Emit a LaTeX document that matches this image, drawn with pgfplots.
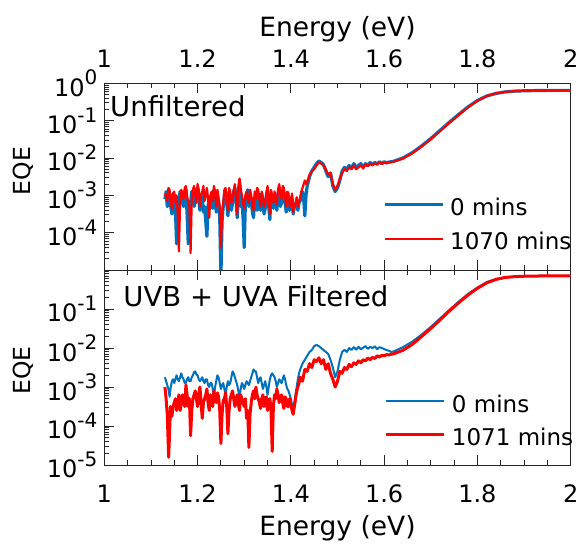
\documentclass[border=0pt]{standalone}
\usepackage{pgfplots}
\pgfplotsset{compat=1.18}
\usepackage{pgfplotstable}
\usepackage{fontspec}
\setmainfont{DejaVu Sans}
\definecolor{mblue}{HTML}{0072BD}
\definecolor{mred}{HTML}{FF0000}
\newcommand{\tp}[1]{10\raisebox{11.5pt}{\fontsize{20}{20}\selectfont #1}}
\begin{document}
\pgfplotstableread{
x y
1.130 7.94e-4
1.1325 1.26e-3
1.135 5.01e-4
1.1375 6.31e-4
1.140 1.00e-3
1.1425 5.01e-4
1.145 3.16e-4
1.1475 1.12e-3
1.150 8.91e-4
1.1525 3.98e-4
1.155 5.01e-5
1.1575 2.51e-4
1.160 7.94e-4
1.1625 1.26e-3
1.165 1.00e-3
1.1675 6.31e-4
1.170 5.01e-4
1.1725 1.26e-3
1.175 1.41e-3
1.1775 3.16e-4
1.180 5.01e-5
1.1825 2.51e-4
1.185 6.31e-4
1.1875 1.26e-3
1.190 1.12e-3
1.1925 5.01e-4
1.195 7.08e-4
1.1975 1.41e-3
1.200 1.58e-3
1.2025 7.94e-4
1.205 3.98e-4
1.2075 1.00e-3
1.210 1.00e-3
1.2125 3.55e-4
1.215 5.01e-4
1.2175 2.00e-4
1.220 7.94e-5
1.2225 5.01e-4
1.225 7.94e-4
1.2275 8.91e-4
1.230 1.00e-3
1.2325 4.47e-4
1.235 1.41e-3
1.2375 1.00e-3
1.240 3.55e-4
1.2425 7.94e-4
1.245 6.31e-4
1.2475 2.51e-4
1.250 6.31e-6
1.2525 2.00e-4
1.255 5.01e-4
1.2575 1.00e-3
1.260 1.26e-3
1.2625 6.31e-4
1.265 2.82e-4
1.2675 7.08e-4
1.270 1.00e-3
1.2725 3.98e-4
1.275 6.31e-4
1.2775 1.26e-3
1.280 1.58e-3
1.2825 7.94e-4
1.285 2.51e-4
1.2875 1.00e-3
1.290 2.00e-3
1.2925 5.01e-4
1.295 7.94e-4
1.2975 2.51e-4
1.300 3.98e-5
1.3025 6.31e-4
1.305 1.00e-3
1.3075 1.41e-3
1.310 5.01e-4
1.3125 1.00e-3
1.315 7.94e-4
1.3175 3.55e-4
1.320 2.51e-4
1.3225 8.91e-4
1.325 6.31e-4
1.3275 3.98e-4
1.330 1.12e-3
1.3325 6.31e-4
1.335 3.98e-4
1.3375 1.12e-3
1.340 7.08e-4
1.3425 3.16e-4
1.345 4.47e-4
1.3475 1.00e-3
1.350 1.41e-3
1.3525 5.01e-4
1.355 2.24e-4
1.3575 1.00e-3
1.360 7.94e-4
1.3625 4.47e-4
1.365 1.00e-3
1.3675 6.31e-4
1.370 3.98e-4
1.3725 1.12e-3
1.375 1.58e-3
1.3775 5.01e-4
1.380 6.31e-4
1.3825 1.00e-3
1.385 1.26e-3
1.3875 6.31e-4
1.390 3.55e-4
1.3925 1.00e-3
1.395 8.91e-4
1.3975 3.98e-4
1.400 5.62e-4
1.4025 8.91e-4
1.405 3.16e-4
1.4075 5.01e-4
1.410 5.01e-4
1.4125 7.08e-4
1.415 3.98e-4
1.4175 6.31e-4
1.420 7.08e-4
1.4225 1.00e-3
1.425 1.26e-3
1.4275 7.94e-4
1.430 2.82e-4
1.4325 1.00e-3
1.435 1.78e-3
1.440 3.16e-3
1.445 4.47e-3
1.450 5.62e-3
1.455 7.08e-3
1.460 8.32e-3
1.465 7.59e-3
1.470 6.61e-3
1.475 4.47e-3
1.480 3.16e-3
1.485 3.98e-3
1.490 1.78e-3
1.495 1.26e-3
1.500 1.58e-3
1.505 2.51e-3
1.510 4.47e-3
1.515 5.62e-3
1.520 5.01e-3
1.525 6.31e-3
1.530 5.25e-3
1.535 7.08e-3
1.540 5.62e-3
1.545 6.31e-3
1.550 7.08e-3
1.555 5.62e-3
1.560 7.08e-3
1.565 6.31e-3
1.570 7.59e-3
1.575 6.61e-3
1.580 7.59e-3
1.585 6.92e-3
1.590 7.94e-3
1.595 7.08e-3
1.600 7.94e-3
1.605 7.41e-3
1.610 7.76e-3
1.615 7.94e-3
1.620 8.13e-3
1.64 1.00e-2
1.66 1.38e-2
1.68 2.09e-2
1.70 3.31e-2
1.72 5.50e-2
1.74 9.12e-2
1.76 0.148
1.78 0.234
1.80 0.347
1.82 0.457
1.84 0.537
1.86 0.589
1.88 0.617
1.90 0.631
1.95 0.646
2.00 0.646
}\topA
\pgfplotstableread{
x y
1.130 1.12e-3
1.1325 8.91e-4
1.135 7.08e-4
1.1375 1.58e-3
1.140 1.41e-3
1.1425 6.31e-4
1.145 4.47e-4
1.1475 1.12e-3
1.150 1.26e-3
1.1525 6.31e-4
1.155 1.00e-3
1.1575 3.16e-4
1.160 3.16e-5
1.1625 6.31e-4
1.165 1.41e-3
1.1675 1.12e-3
1.170 7.94e-4
1.1725 1.58e-3
1.175 1.78e-3
1.1775 1.00e-3
1.180 6.31e-4
1.1825 5.01e-4
1.185 2.82e-5
1.1875 7.94e-4
1.190 1.41e-3
1.1925 1.78e-3
1.195 1.00e-3
1.1975 6.31e-4
1.200 2.00e-3
1.2025 1.41e-3
1.205 5.01e-4
1.2075 1.00e-3
1.210 1.26e-3
1.2125 1.78e-3
1.215 7.08e-4
1.2175 1.00e-3
1.220 1.58e-3
1.2225 7.94e-4
1.225 2.51e-4
1.2275 1.00e-3
1.230 1.26e-3
1.2325 7.08e-4
1.235 1.78e-3
1.2375 1.26e-3
1.240 5.01e-4
1.2425 1.41e-3
1.245 8.91e-4
1.2475 5.01e-4
1.250 3.98e-5
1.2525 3.16e-4
1.255 6.31e-4
1.2575 1.41e-3
1.260 1.58e-3
1.2625 8.91e-4
1.265 3.98e-4
1.2675 1.58e-3
1.270 1.26e-3
1.2725 6.31e-4
1.275 7.94e-4
1.2775 1.41e-3
1.280 2.00e-3
1.2825 7.94e-4
1.285 3.16e-4
1.2875 1.78e-3
1.290 2.82e-3
1.2925 1.58e-3
1.295 1.00e-3
1.2975 6.31e-4
1.300 4.47e-4
1.3025 1.00e-3
1.305 1.26e-3
1.3075 7.94e-4
1.310 6.31e-4
1.3125 1.41e-3
1.315 1.00e-3
1.3175 6.31e-4
1.320 3.98e-4
1.3225 1.26e-3
1.325 7.94e-4
1.3275 1.58e-3
1.330 1.41e-3
1.3325 7.94e-4
1.335 5.01e-4
1.3375 1.26e-3
1.340 8.91e-4
1.3425 5.01e-4
1.345 5.62e-4
1.3475 1.12e-3
1.350 1.78e-3
1.3525 8.91e-4
1.355 3.16e-4
1.3575 1.41e-3
1.360 1.00e-3
1.3625 6.31e-4
1.365 1.26e-3
1.3675 7.94e-4
1.370 5.62e-4
1.3725 1.41e-3
1.375 2.00e-3
1.3775 1.12e-3
1.380 7.94e-4
1.3825 1.78e-3
1.385 1.58e-3
1.3875 8.91e-4
1.390 5.01e-4
1.3925 1.26e-3
1.395 1.12e-3
1.3975 5.01e-4
1.400 7.08e-4
1.4025 1.12e-3
1.405 3.55e-4
1.4075 5.01e-4
1.410 6.31e-4
1.4125 8.91e-4
1.415 5.01e-4
1.4175 6.31e-4
1.420 8.91e-4
1.4225 1.26e-3
1.425 1.58e-3
1.4275 2.00e-3
1.430 2.51e-3
1.4325 2.00e-3
1.435 2.24e-3
1.440 3.55e-3
1.445 4.47e-3
1.450 5.01e-3
1.455 6.31e-3
1.460 7.59e-3
1.465 7.08e-3
1.470 6.31e-3
1.475 5.01e-3
1.480 3.55e-3
1.485 3.98e-3
1.490 2.00e-3
1.495 1.41e-3
1.500 1.78e-3
1.505 2.82e-3
1.510 3.98e-3
1.515 5.01e-3
1.520 4.47e-3
1.525 5.62e-3
1.530 5.01e-3
1.535 6.31e-3
1.540 5.01e-3
1.545 5.62e-3
1.550 6.31e-3
1.555 5.25e-3
1.560 6.61e-3
1.565 6.03e-3
1.570 7.08e-3
1.575 6.31e-3
1.580 7.24e-3
1.585 6.61e-3
1.590 7.59e-3
1.595 6.92e-3
1.600 7.59e-3
1.605 7.24e-3
1.610 7.59e-3
1.615 7.76e-3
1.620 7.94e-3
1.64 9.55e-3
1.66 1.32e-2
1.68 2.00e-2
1.70 3.16e-2
1.72 5.25e-2
1.74 8.71e-2
1.76 0.141
1.78 0.229
1.80 0.339
1.82 0.457
1.84 0.537
1.86 0.589
1.88 0.617
1.90 0.631
1.95 0.646
2.00 0.646
}\topB
\pgfplotstableread{
x y
1.130 1.78e-3
1.1325 1.41e-3
1.135 1.12e-3
1.1375 8.91e-4
1.140 5.62e-4
1.1425 1.00e-3
1.145 1.41e-3
1.1475 1.58e-3
1.150 1.26e-3
1.1525 1.58e-3
1.155 2.00e-3
1.1575 1.58e-3
1.160 1.41e-3
1.1625 1.78e-3
1.165 2.24e-3
1.1675 1.78e-3
1.170 1.58e-3
1.1725 1.26e-3
1.175 1.26e-3
1.1775 1.58e-3
1.180 1.78e-3
1.1825 1.41e-3
1.185 1.41e-3
1.1875 1.78e-3
1.190 2.00e-3
1.1925 2.40e-3
1.195 2.51e-3
1.1975 2.09e-3
1.200 2.00e-3
1.2025 1.58e-3
1.205 1.41e-3
1.2075 1.58e-3
1.210 1.78e-3
1.2125 1.41e-3
1.215 1.26e-3
1.2175 1.58e-3
1.220 1.58e-3
1.2225 1.12e-3
1.225 1.00e-3
1.2275 1.26e-3
1.230 1.26e-3
1.2325 8.91e-4
1.235 5.62e-4
1.2375 1.00e-3
1.240 1.41e-3
1.2425 2.00e-3
1.245 1.78e-3
1.2475 1.26e-3
1.250 8.91e-4
1.2525 1.12e-3
1.255 1.26e-3
1.2575 8.91e-4
1.260 6.31e-4
1.2625 1.00e-3
1.265 1.41e-3
1.2675 1.12e-3
1.270 1.26e-3
1.2725 1.78e-3
1.275 2.51e-3
1.2775 2.24e-3
1.280 1.78e-3
1.2825 1.41e-3
1.285 1.12e-3
1.2875 7.94e-4
1.290 5.62e-4
1.2925 8.91e-4
1.295 1.26e-3
1.2975 1.12e-3
1.300 8.91e-4
1.3025 1.12e-3
1.305 1.41e-3
1.3075 1.26e-3
1.310 1.12e-3
1.3125 1.41e-3
1.315 1.78e-3
1.3175 2.24e-3
1.320 2.82e-3
1.3225 2.51e-3
1.325 2.51e-3
1.3275 1.78e-3
1.330 1.26e-3
1.3325 1.58e-3
1.335 1.78e-3
1.3375 1.26e-3
1.340 8.91e-4
1.3425 1.12e-3
1.345 1.41e-3
1.3475 1.00e-3
1.350 6.31e-4
1.3525 1.00e-3
1.355 1.58e-3
1.3575 2.00e-3
1.360 2.24e-3
1.3625 2.00e-3
1.365 1.78e-3
1.3675 1.41e-3
1.370 1.00e-3
1.3725 1.26e-3
1.375 1.58e-3
1.3775 1.41e-3
1.380 1.26e-3
1.3825 1.58e-3
1.385 2.00e-3
1.3875 1.58e-3
1.390 1.12e-3
1.3925 8.91e-4
1.395 7.94e-4
1.3975 6.31e-4
1.400 5.01e-4
1.4025 3.55e-4
1.405 2.51e-4
1.4075 3.98e-4
1.410 6.31e-4
1.4125 1.00e-3
1.415 1.58e-3
1.4175 2.24e-3
1.420 2.82e-3
1.425 3.98e-3
1.430 5.01e-3
1.435 6.31e-3
1.440 7.94e-3
1.445 8.91e-3
1.450 1.12e-2
1.455 1.20e-2
1.460 1.12e-2
1.465 1.00e-2
1.470 8.91e-3
1.475 7.94e-3
1.480 7.08e-3
1.485 5.01e-3
1.490 3.16e-3
1.495 1.78e-3
1.500 2.51e-3
1.505 5.01e-3
1.510 7.94e-3
1.515 8.91e-3
1.520 7.94e-3
1.525 1.00e-2
1.530 8.91e-3
1.535 1.05e-2
1.540 9.12e-3
1.545 1.07e-2
1.550 9.33e-3
1.555 1.02e-2
1.560 1.12e-2
1.565 9.55e-3
1.570 1.07e-2
1.575 1.00e-2
1.580 1.10e-2
1.585 9.33e-3
1.590 1.05e-2
1.595 1.00e-2
1.600 9.33e-3
1.605 8.91e-3
1.610 8.51e-3
1.615 7.94e-3
1.620 8.13e-3
1.64 1.05e-2
1.66 1.45e-2
1.68 2.19e-2
1.70 3.47e-2
1.72 5.75e-2
1.74 9.55e-2
1.76 0.155
1.78 0.245
1.80 0.355
1.82 0.490
1.84 0.589
1.86 0.646
1.88 0.676
1.90 0.692
1.95 0.708
2.00 0.708
}\botA
\pgfplotstableread{
x y
1.130 1.00e-3
1.1325 5.01e-4
1.135 2.00e-4
1.138 1.58e-5
1.142 3.16e-4
1.145 1.78e-4
1.1475 3.16e-4
1.150 3.98e-4
1.1525 5.01e-4
1.155 2.51e-4
1.1575 3.98e-4
1.160 6.31e-4
1.1625 2.51e-4
1.165 3.55e-4
1.1675 6.31e-4
1.170 5.01e-4
1.1725 3.16e-4
1.175 1.12e-3
1.1775 6.31e-4
1.180 3.16e-4
1.1825 5.01e-4
1.185 5.62e-5
1.1875 2.51e-4
1.190 5.01e-4
1.1925 6.31e-4
1.195 7.94e-4
1.1975 5.01e-4
1.200 3.16e-4
1.2025 6.31e-4
1.205 1.00e-3
1.2075 3.98e-4
1.210 1.58e-4
1.2125 3.98e-4
1.215 5.01e-4
1.2175 6.31e-4
1.220 8.91e-4
1.2225 3.98e-4
1.225 2.51e-4
1.2275 6.31e-4
1.230 4.47e-4
1.2325 3.16e-4
1.235 7.94e-4
1.2375 5.62e-4
1.240 3.98e-4
1.2425 7.08e-4
1.245 5.62e-4
1.2475 2.51e-4
1.250 3.55e-5
1.2525 2.00e-4
1.255 4.47e-4
1.2575 5.01e-4
1.260 7.08e-4
1.2625 3.16e-4
1.265 6.31e-5
1.2675 2.51e-4
1.270 5.01e-4
1.2725 6.31e-4
1.275 7.94e-4
1.2775 5.01e-4
1.280 3.16e-4
1.2825 5.01e-4
1.285 6.31e-4
1.2875 3.55e-4
1.290 2.51e-4
1.2925 6.31e-4
1.295 5.01e-4
1.2975 3.98e-4
1.300 3.16e-4
1.3025 5.01e-4
1.305 1.58e-4
1.3075 2.51e-4
1.310 2.82e-5
1.3125 2.00e-4
1.315 3.98e-4
1.3175 6.31e-4
1.320 7.94e-4
1.3225 5.01e-4
1.325 1.00e-3
1.3275 6.31e-4
1.330 5.01e-4
1.3325 3.98e-4
1.335 2.82e-4
1.3375 5.01e-4
1.340 6.31e-4
1.3425 3.16e-4
1.345 3.98e-4
1.3475 5.62e-4
1.350 2.51e-4
1.3525 3.98e-4
1.355 5.01e-4
1.3575 2.51e-4
1.360 2.24e-5
1.3625 3.16e-4
1.365 6.31e-4
1.3675 5.01e-4
1.370 8.91e-4
1.3725 6.31e-4
1.375 3.98e-4
1.3775 5.01e-4
1.380 6.31e-4
1.3825 3.98e-4
1.385 2.82e-4
1.3875 5.62e-4
1.390 5.01e-4
1.3925 3.16e-4
1.395 3.16e-4
1.3975 5.01e-4
1.400 3.55e-4
1.4025 2.51e-4
1.405 2.00e-4
1.4075 3.16e-4
1.410 5.01e-4
1.4125 7.94e-4
1.415 1.00e-3
1.4175 1.26e-3
1.420 1.78e-3
1.425 1.41e-3
1.430 2.82e-3
1.435 2.51e-3
1.440 3.98e-3
1.445 3.16e-3
1.450 5.01e-3
1.455 4.47e-3
1.460 5.62e-3
1.465 3.98e-3
1.470 5.01e-3
1.475 2.82e-3
1.480 3.98e-3
1.485 2.24e-3
1.490 1.58e-3
1.495 1.00e-3
1.500 1.41e-3
1.505 2.51e-3
1.510 2.24e-3
1.515 3.16e-3
1.520 2.82e-3
1.525 3.80e-3
1.530 3.31e-3
1.535 4.17e-3
1.540 3.80e-3
1.545 4.68e-3
1.550 4.17e-3
1.555 5.01e-3
1.560 4.68e-3
1.565 5.50e-3
1.570 5.01e-3
1.575 5.75e-3
1.580 5.37e-3
1.585 6.31e-3
1.590 5.89e-3
1.595 6.46e-3
1.600 6.31e-3
1.605 6.76e-3
1.610 6.61e-3
1.615 6.92e-3
1.620 7.08e-3
1.64 8.71e-3
1.66 1.23e-2
1.68 1.95e-2
1.70 3.16e-2
1.72 5.25e-2
1.74 8.91e-2
1.76 0.145
1.78 0.229
1.80 0.339
1.82 0.468
1.84 0.575
1.86 0.646
1.88 0.676
1.90 0.692
1.95 0.708
2.00 0.708
}\botB
\begin{tikzpicture}
\begin{axis}[scale only axis, width=466.4pt, height=186.7pt,
  at={(0,0)}, anchor=south west,
  xmin=1, xmax=2, ymode=log, ymin=1e-5, ymax=1,
  axis line style={black!85, line width=0.8pt},
  every tick/.style={black!85, line width=0.8pt},
  tick align=inside,
  major tick length=10pt, minor tick length=5pt,
  xtick={1,1.2,1.4,1.6,1.8,2},
  xticklabels={1,1.2,1.4,1.6,1.8,2},
  minor x tick num=3,
  xtick pos=both, ytick pos=left,
  minor ytick={2e-5,3e-5,4e-5,5e-5,6e-5,7e-5,8e-5,9e-5,2e-4,3e-4,4e-4,5e-4,6e-4,7e-4,8e-4,9e-4,2e-3,3e-3,4e-3,5e-3,6e-3,7e-3,8e-3,9e-3,2e-2,3e-2,4e-2,5e-2,6e-2,7e-2,8e-2,9e-2,2e-1,3e-1,4e-1,5e-1,6e-1,7e-1,8e-1,9e-1},
  tick label style={font=\fontsize{24}{28}\selectfont, inner sep=0pt},
  yticklabel style={xshift=-6.8pt},
  xticklabel pos=upper,
  xticklabel style={yshift=15.3pt},
  xlabel={Energy (eV)},
  xlabel style={font=\fontsize{26.5}{30}\selectfont, inner sep=0pt, at={(axis description cs:0.5,1)}, anchor=base, yshift=46.7pt},
  ylabel={EQE},
  ylabel style={font=\fontsize{23.5}{28}\selectfont, inner sep=0pt, at={(axis description cs:-0.1737,0.53)}, anchor=center},
  ytick={1e-4,1e-3,1e-2,1e-1,1},
  yticklabels={\tp{-4},\tp{-3},\tp{-2},\tp{-1},\tp{0}},
  legend style={draw=none, fill=none, inner sep=0pt, outer sep=0pt,
    column sep=6pt, font=\fontsize{23}{27}\selectfont,
    nodes={inner sep=0pt}, at={(0.5976,0.3851)}, anchor=north west, row sep=15.1pt},
  legend cell align=left,
  legend image code/.code={\draw[#1] (0pt,3pt) -- (58pt,3pt);},
]
\addplot[mblue, line width=3.2pt, line join=round] table {\topA};
\addlegendentry{0 mins}
\addplot[mred, line width=2.2pt, line join=round] table {\topB};
\addlegendentry{1070 mins}
\node[anchor=base west, inner sep=0pt, xshift=5.7pt, yshift=-33.4pt,
  font=\fontsize{27.5}{32}\selectfont] at (rel axis cs:0,1) {Unfiltered};
\end{axis}
\begin{axis}[scale only axis, width=466.4pt, height=195pt,
  at={(0,0)}, anchor=north west,
  xmin=1, xmax=2, ymode=log, ymin=1e-5, ymax=1,
  axis line style={black!85, line width=0.8pt},
  every tick/.style={black!85, line width=0.8pt},
  tick align=inside,
  major tick length=10pt, minor tick length=5pt,
  xtick={1,1.2,1.4,1.6,1.8,2},
  xticklabels={1,1.2,1.4,1.6,1.8,2},
  minor x tick num=3,
  xtick pos=both, ytick pos=left,
  minor ytick={2e-5,3e-5,4e-5,5e-5,6e-5,7e-5,8e-5,9e-5,2e-4,3e-4,4e-4,5e-4,6e-4,7e-4,8e-4,9e-4,2e-3,3e-3,4e-3,5e-3,6e-3,7e-3,8e-3,9e-3,2e-2,3e-2,4e-2,5e-2,6e-2,7e-2,8e-2,9e-2,2e-1,3e-1,4e-1,5e-1,6e-1,7e-1,8e-1,9e-1},
  tick label style={font=\fontsize{24}{28}\selectfont, inner sep=0pt},
  yticklabel style={xshift=-6.8pt},
  xticklabel pos=lower,
  xticklabel style={yshift=-19.4pt},
  xlabel={Energy (eV)},
  xlabel style={font=\fontsize{26.5}{30}\selectfont, inner sep=0pt, at={(axis description cs:0.5,0)}, anchor=base, yshift=-70.6pt},
  ylabel={EQE},
  ylabel style={font=\fontsize{23.5}{28}\selectfont, inner sep=0pt, at={(axis description cs:-0.1737,0.485)}, anchor=center},
  ytick={1e-5,1e-4,1e-3,1e-2,1e-1,1},
  yticklabels={\tp{-5},\tp{-4},\tp{-3},\tp{-2},\tp{-1},{}},
  legend style={draw=none, fill=none, inner sep=0pt, outer sep=0pt,
    column sep=6pt, font=\fontsize{23}{27}\selectfont,
    nodes={inner sep=0pt}, at={(0.6018,0.3605)}, anchor=north west, row sep=14.5pt},
  legend cell align=left,
  legend image code/.code={\draw[#1] (0pt,3pt) -- (58pt,3pt);},
]
\addplot[mblue, line width=2pt, line join=round] table {\botA};
\addlegendentry{0 mins}
\addplot[mred, line width=3pt, line join=round] table {\botB};
\addlegendentry{1071 mins}
\node[anchor=base west, inner sep=0pt, xshift=19pt, yshift=-36pt,
  font=\fontsize{27.5}{32}\selectfont] at (rel axis cs:0,1) {UVB + UVA Filtered};
\end{axis}
\useasboundingbox (-104.3pt,-274pt) rectangle (476.7pt,270pt);
\end{tikzpicture}
\end{document}
